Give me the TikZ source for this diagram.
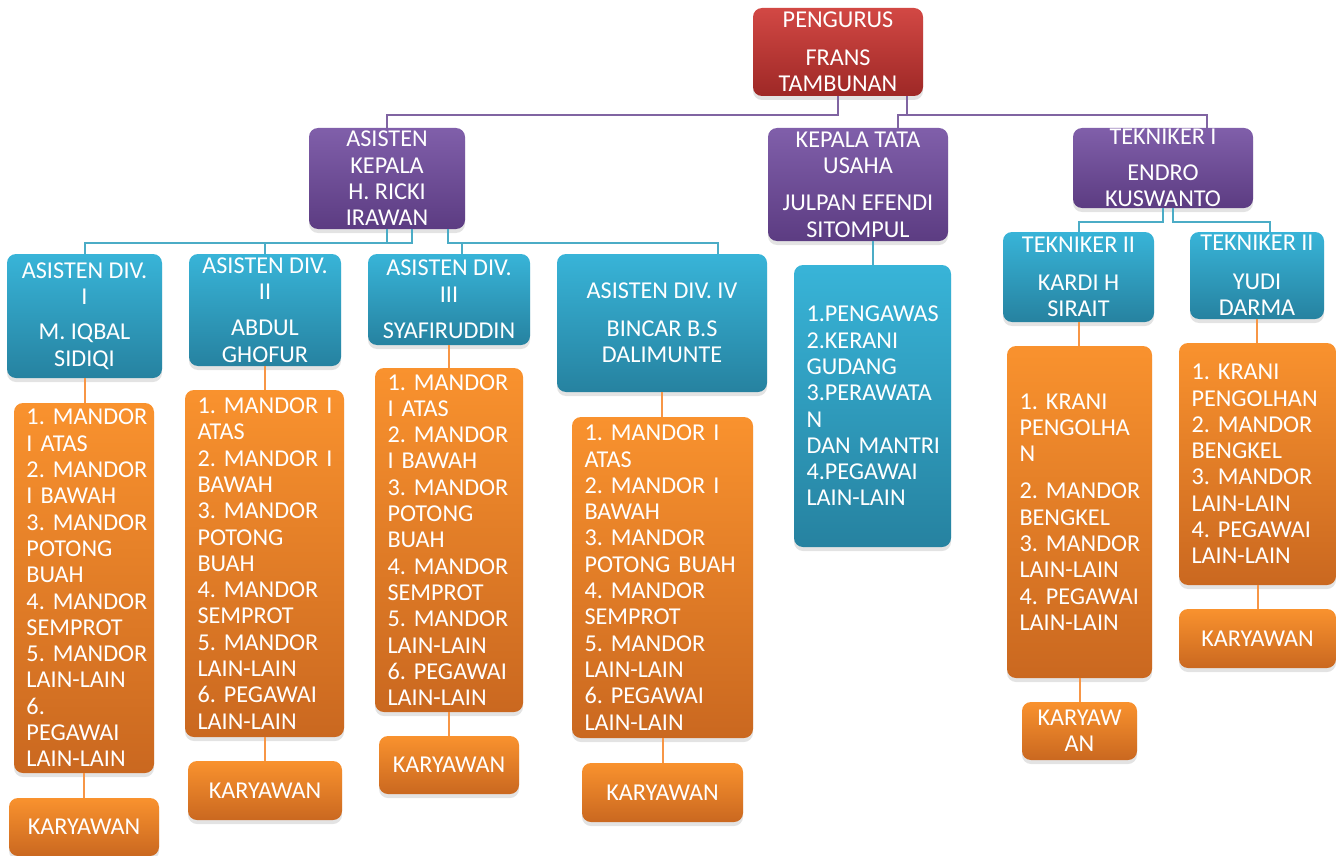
\documentclass[tikz,border=0pt]{standalone}
\usepackage{fontspec}
\setmainfont{Carlito}
\usetikzlibrary{shadows}
\frenchspacing
\hyphenpenalty=10000
\exhyphenpenalty=10000

\definecolor{redtop}{RGB}{210,72,68}
\definecolor{redbot}{RGB}{158,40,38}
\definecolor{purtop}{RGB}{128,95,170}
\definecolor{purbot}{RGB}{92,60,130}
\definecolor{cyantop}{RGB}{56,180,216}
\definecolor{cyanbot}{RGB}{38,130,160}
\definecolor{orgtop}{RGB}{249,146,46}
\definecolor{orgbot}{RGB}{202,104,32}
\definecolor{plinec}{RGB}{128,100,162}
\definecolor{clinec}{RGB}{75,172,198}
\definecolor{olinec}{RGB}{247,150,70}

\begin{document}
\begin{tikzpicture}
  [x=1pt,y=-1pt,
  box/.style={rounded corners=9pt, text=white, align=center,
    inner xsep=4pt, inner ysep=0pt,
    font=\fontsize{24.2pt}{26.3pt}\selectfont,
    drop shadow={shadow xshift=0pt,shadow yshift=-4pt,opacity=0.22}},
  redbox/.style={box, top color=redtop, bottom color=redbot},
  purbox/.style={box, top color=purtop, bottom color=purbot},
  cyanbox/.style={box, top color=cyantop, bottom color=cyanbot},
  orgbox/.style={box, top color=orgtop, bottom color=orgbot},
  listbox/.style={align=left, inner xsep=0pt,
    execute at begin node={\leftskip=12.5pt}},
  pline/.style={draw=plinec, line width=2pt},
  cline/.style={draw=clinec, line width=2pt},
  oline/.style={draw=olinec, line width=2pt}]
  \useasboundingbox (0,0) rectangle (1336,856);

  % top levels
  \node[redbox, minimum width=170pt, minimum height=88pt] (pengurus) at (838,52)
    {PENGURUS\\[11pt]FRANS\\TAMBUNAN};
  \node[purbox, minimum width=156pt, minimum height=101pt] (ak) at (387,178.5)
    {ASISTEN\\KEPALA\\H. RICKI\\IRAWAN};
  \node[purbox, minimum width=180pt, minimum height=113pt] (ktu) at (858,184.5)
    {KEPALA TATA\\USAHA\\[11pt]JULPAN EFENDI\\SITOMPUL};
  \node[purbox, minimum width=180pt, minimum height=80pt] (tk1) at (1163,168)
    {TEKNIKER I\\[9pt]ENDRO\\KUSWANTO};

  % asisten divisi
  \node[cyanbox, minimum width=155pt, minimum height=124pt] (div1) at (84.5,316)
    {ASISTEN DIV.\\I\\[9pt]M. IQBAL\\SIDIQI};
  \node[cyanbox, minimum width=152pt, minimum height=112pt] (div2) at (265,310)
    {ASISTEN DIV.\\II\\[10pt]ABDUL\\GHOFUR};
  \node[cyanbox, minimum width=162pt, minimum height=91pt] (div3) at (449,299.5)
    {ASISTEN DIV.\\III\\[10pt]SYAFIRUDDIN};
  \node[cyanbox, minimum width=210pt, minimum height=138pt] (div4) at (662,323)
    {ASISTEN DIV. IV\\[11pt]BINCAR B.S\\DALIMUNTE};
  \node[cyanbox, listbox, text width=157pt, minimum height=282pt] (ktul) at (872.5,406)
    {1.PENGAWAS\\2.KERANI\\GUDANG\\3.PERAWATA\\N\\DAN MANTRI\\4.PEGAWAI\\LAIN-LAIN};
  \node[cyanbox, minimum width=151pt, minimum height=90pt] (kardi) at (1078.5,277)
    {TEKNIKER II\\[12pt]KARDI H\\SIRAIT};
  \node[cyanbox, minimum width=134pt, minimum height=87pt] (yudi) at (1257,275.5)
    {TEKNIKER II\\[12pt]YUDI\\DARMA};

  % daftar mandor
  \node[orgbox, listbox, text width=140pt, minimum height=370pt] (l1) at (84,588)
    {1. MANDOR\\I ATAS\\2. MANDOR\\I BAWAH\\3. MANDOR\\POTONG\\BUAH\\4. MANDOR\\SEMPROT\\5. MANDOR\\LAIN-LAIN\\6.\\PEGAWAI\\LAIN-LAIN};
  \node[orgbox, listbox, text width=159pt, minimum height=347pt] (l2) at (264.5,563.5)
    {1. MANDOR I\\ATAS\\2. MANDOR I\\BAWAH\\3. MANDOR\\POTONG\\BUAH\\4. MANDOR\\SEMPROT\\5. MANDOR\\LAIN-LAIN\\6. PEGAWAI\\LAIN-LAIN};
  \node[orgbox, listbox, text width=148pt, minimum height=344pt] (l3) at (449,540)
    {1. MANDOR\\I ATAS\\2. MANDOR\\I BAWAH\\3. MANDOR\\POTONG\\BUAH\\4. MANDOR\\SEMPROT\\5. MANDOR\\LAIN-LAIN\\6. PEGAWAI\\LAIN-LAIN};
  \node[orgbox, listbox, text width=181pt, minimum height=321pt] (l4) at (662.5,577.5)
    {1. MANDOR I\\ATAS\\2. MANDOR I\\BAWAH\\3. MANDOR\\POTONG BUAH\\4. MANDOR\\SEMPROT\\5. MANDOR\\LAIN-LAIN\\6. PEGAWAI\\LAIN-LAIN};
  \node[orgbox, listbox, text width=145pt, minimum height=332pt] (kardil) at (1079.5,512)
    {1. KRANI\\PENGOLHA\\N\\[11pt]2. MANDOR\\BENGKEL\\3. MANDOR\\LAIN-LAIN\\4. PEGAWAI\\LAIN-LAIN};
  \node[orgbox, listbox, text width=157pt, minimum height=242pt] (yudil) at (1257.5,464)
    {1. KRANI\\PENGOLHAN\\2. MANDOR\\BENGKEL\\3. MANDOR\\LAIN-LAIN\\4. PEGAWAI\\LAIN-LAIN};

  % karyawan
  \node[orgbox, minimum width=150pt, minimum height=58pt] (k1) at (84,827) {KARYAWAN};
  \node[orgbox, minimum width=154pt, minimum height=59pt] (k2) at (265,790.5) {KARYAWAN};
  \node[orgbox, minimum width=140pt, minimum height=58pt] (k3) at (449,765) {KARYAWAN};
  \node[orgbox, minimum width=161pt, minimum height=59pt] (k4) at (662.5,792.5) {KARYAWAN};
  \node[orgbox, minimum width=115pt, minimum height=58pt] (k5) at (1079.5,731) {KARYAW\\AN};
  \node[orgbox, minimum width=157pt, minimum height=59pt] (k6) at (1257.5,638.5) {KARYAWAN};

  % garis pengurus
  \coordinate (pbus) at (0,115);
  \coordinate (pr) at ([xshift=69pt]pengurus.south);
  \coordinate (ktudrop) at ([xshift=40pt]ktu.north);
  \coordinate (tkdrop) at ([xshift=44pt]tk1.north);
  \draw[pline] (pengurus.south) -- (pengurus.south |- pbus) -| (ak.north);
  \draw[pline] (pr) -- (pr |- pbus) -| (ktudrop);
  \draw[pline] (pr |- pbus) -| (tkdrop);

  % garis asisten kepala
  \coordinate (cbus) at (0,243);
  \coordinate (akm) at ([xshift=25pt]ak.south);
  \coordinate (akr) at ([xshift=61pt]ak.south);
  \coordinate (d3drop) at ([xshift=13pt]div3.north);
  \coordinate (d4drop) at ([xshift=56pt]div4.north);
  \draw[cline] (ak.south) -- (ak.south |- cbus) -| (div1.north);
  \draw[cline] (akm) -- (akm |- cbus) -| (div2.north);
  \draw[cline] (akr) -- (akr |- cbus) -| (d3drop);
  \draw[cline] (akr |- cbus) -| (d4drop);

  % garis tata usaha dan teknik
  \draw[cline] (ktul.north |- ktu.south) -- (ktul.north);
  \coordinate (tbus) at (0,222);
  \coordinate (tkr) at ([xshift=10pt]tk1.south);
  \coordinate (yudrop) at ([xshift=13pt]yudi.north);
  \draw[cline] (tk1.south) -- (tk1.south |- tbus) -| (kardi.north);
  \draw[cline] (tkr) -- (tkr |- tbus) -| (yudrop);

  % garis mandor dan karyawan
  \draw[oline] (div1.south) -- (div1.south |- l1.north);
  \draw[oline] (l1.south) -- (l1.south |- k1.north);
  \draw[oline] (div2.south) -- (div2.south |- l2.north);
  \draw[oline] (l2.south) -- (l2.south |- k2.north);
  \draw[oline] (div3.south) -- (div3.south |- l3.north);
  \draw[oline] (l3.south) -- (l3.south |- k3.north);
  \draw[oline] (div4.south) -- (div4.south |- l4.north);
  \draw[oline] (l4.south) -- (l4.south |- k4.north);
  \draw[oline] (kardi.south) -- (kardi.south |- kardil.north);
  \draw[oline] (kardil.south) -- (kardil.south |- k5.north);
  \draw[oline] (yudi.south) -- (yudi.south |- yudil.north);
  \draw[oline] (yudil.south) -- (yudil.south |- k6.north);
\end{tikzpicture}
\end{document}
